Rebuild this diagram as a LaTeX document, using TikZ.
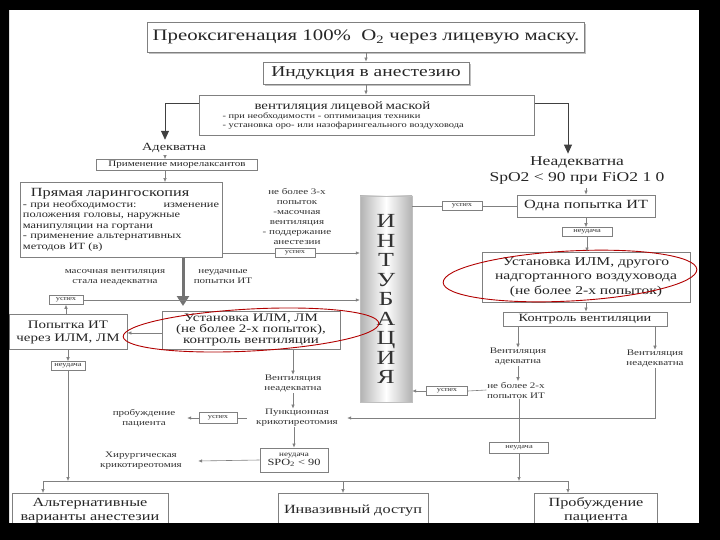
\documentclass[tikz,border=0pt]{standalone}
\usepackage{fontspec}
\setmainfont{Liberation Serif}[FakeStretch=1.3]
\usetikzlibrary{arrows.meta,shadows}

\newcommand\tinytxt{\fontsize{8.5}{10}\selectfont}
\newcommand\midtxt{\fontsize{12.5}{15}\selectfont}

\tikzset{
  bx/.style={draw=black!50, line width=0.8pt, fill=white, text=black!85, inner sep=1pt, align=center},
  glow/.style={drop shadow={fill=black!35, shadow xshift=1.5pt, shadow yshift=-2.5pt, opacity=0.7}},
  tag/.style={draw=black!50, line width=0.6pt, fill=white, text=black!80, inner sep=1pt, minimum height=9, font=\fontsize{6.5}{7}\selectfont},
  note/.style={text=black!80, align=center, inner sep=0.5pt, font=\tinytxt},
  ln/.style={draw=black!50, line width=0.6pt},
  arr/.style={ln, -{Latex[length=4pt,width=3.5pt]}},
  bigarr/.style={draw=black!75, line width=0.8pt, -{Triangle[length=9pt,width=8pt]}},
  oval/.style={draw=red!70!black, line width=0.9pt},
}

\begin{document}
\begin{tikzpicture}[x=1pt,y=1pt,yscale=-1]
%frame
\fill[black] (0,0) rectangle (720,540);
\fill[white] (9,10) rectangle (699,523);

% Text Node
\draw (366,37) node [bx, glow, minimum width=437, minimum height=30, font=\fontsize{16}{19}\selectfont] (preox) {Преоксигенация 100\%\ \ O\textsubscript{2} через лицевую маску.};
% Text Node
\draw (366,73) node [bx, glow, minimum width=206, minimum height=22, font=\fontsize{15}{17}\selectfont] (induct) {Индукция в анестезию};
% Text Node
\draw (367,115) node [bx, minimum width=335, minimum height=40, text width=325, align=left, font=\fontsize{8}{9}\selectfont] (vent) {\hspace*{50pt}{\fontsize{11.5}{13}\selectfont вентиляция лицевой маской}\\\hspace*{18pt}- при необходимости - оптимизация техники\\\hspace*{18pt}- установка оро- или назофарингеального воздуховода};

% Text Node
\draw (174,148) node [text=black!85, font=\fontsize{11}{13}\selectfont] (adek) {Адекватна};
% Text Node
\draw (577,171) node [text=black!85, align=center, font=\fontsize{13.5}{16}\selectfont] (neadek) {Неадекватна\\SpO2 < 90 при FiO2 1 0};

% Text Node
\draw (177,165) node [bx, minimum width=161, minimum height=11, inner sep=0pt, font=\fontsize{8.5}{9}\selectfont] (mio) {Применение миорелаксантов};
% Text Node
\draw (121,220) node [bx, minimum width=202, minimum height=75, text width=196, align=left, font=\fontsize{9.5}{10.5}\selectfont] (laryng) {{\fontsize{12.5}{14}\selectfont\hspace*{8pt}Прямая ларингоскопия}\\- при необходимости:\hfill изменение\\положения головы, наружные\\манипуляции на гортани\\- применение альтернативных\\методов ИТ (в)};

% Text Node
\draw (297,216) node [note] (nb3) {не более 3-х\\попыток\\-масочная\\вентиляция\\- поддержание\\анестезии};
\draw (295,253) node [tag, minimum width=40] (u1) {успех};

% Shape: column
\draw (386,299) node [draw=black!25, left color=black!30, right color=black!30, middle color=white, minimum width=52, minimum height=206, align=center, text=black!80, font=\fontsize{20}{19.5}\selectfont] (intub) {И\\Н\\Т\\У\\Б\\А\\Ц\\И\\Я};

% Text Node
\draw (462,206) node [tag, minimum width=40] (u2) {успех};
\draw (586,206) node [bx, minimum width=138, minimum height=22, font=\midtxt] (odna) {Одна попытка ИТ};
\draw (587,232) node [tag, minimum width=50] (nd1) {неудача};
\draw (586,277) node [bx, minimum width=208, minimum height=50, font=\fontsize{12}{14.5}\selectfont] (ilm2) {Установка ИЛМ, другого\\надгортанного воздуховода\\(не более 2-х попыток)};
\draw (585,319) node [bx, minimum width=164, minimum height=14, inner sep=0pt, font=\fontsize{11}{12}\selectfont] (kontr) {Контроль вентиляции};
\draw (518,357) node [note] (va) {Вентиляция\\адекватна};
\draw (655,359) node [note] (vn) {Вентиляция\\неадекватна};
\draw (516,390) node [note] (nb2) {не более 2-х\\попыток ИТ};
\draw (447,391) node [tag, minimum width=41] (u3) {успех};
\draw (519,448) node [tag, minimum width=59, minimum height=11] (nd3) {неудача};

% Text Node
\draw (115,277) node [note] (maska) {масочная вентиляция\\стала неадекватна};
\draw (223,277) node [note] (neud) {неудачные\\попытки ИТ};
\draw (66,300) node [tag, minimum width=34] (u4) {успех};
\draw (68,332) node [bx, minimum width=118, minimum height=35, font=\fontsize{11.5}{13}\selectfont] (popyt) {Попытка ИТ\\через ИЛМ, ЛМ};
\draw (251,330) node [bx, minimum width=178, minimum height=38, font=\fontsize{11.5}{11}\selectfont] (ilm1) {Установка ИЛМ, ЛМ\\(не более 2-х попыток),\\контроль вентиляции};
\draw (68,366) node [tag, minimum width=34] (nd2) {неудача};
\draw (293,384) node [note] (vn1) {Вентиляция\\неадекватна};
\draw (297,418) node [note, minimum width=100] (punk) {Пункционная\\крикотиреотомия};
\draw (218,418) node [tag, minimum width=38, minimum height=11] (u5) {успех};
\draw (144,418) node [note, minimum width=86] (probud) {пробуждение\\пациента};
\draw (294,460) node [bx, minimum width=68, minimum height=24, font=\fontsize{7}{9}\selectfont] (nd4) {неудача\\{\fontsize{9.5}{11}\selectfont SPO\textsubscript{2} < 90}};
\draw (141,461) node [note, minimum width=114] (hir) {Хирургическая\\крикотиреотомия};

% Text Node
\draw (90,493) node [bx, anchor=north, minimum width=156, minimum height=34, font=\fontsize{12.5}{14}\selectfont] (alt) {Альтернативные\\варианты анестезии};
\draw (353,493) node [bx, anchor=north, minimum width=150, minimum height=34, font=\fontsize{12.5}{14}\selectfont] (inv) {Инвазивный доступ};
\draw (596,493) node [bx, anchor=north, minimum width=123, minimum height=34, font=\fontsize{12.5}{14}\selectfont] (prob) {Пробуждение\\пациента};

% red marks
\draw[oval, rotate around={-3:(570,276)}] (570,276) ellipse [x radius=127, y radius=25];
\draw[oval, rotate around={-3:(251,330)}] (251,330) ellipse [x radius=128, y radius=21];

%Straight Lines
\draw[arr] (preox.south) -- (preox.south |- induct.north);
\draw[arr] (induct.south) -- (induct.south |- vent.north);
\coordinate (vl) at (165,103);
\coordinate (vr) at (568,103);
\draw[bigarr] (vent.west |- vl) -- (vl) -- (vl |- adek.north);
\draw[bigarr] (vent.east |- vr) -- (vr) -- (vr |- neadek.north);
\draw[arr] (adek.south -| vl) -- (mio.north -| vl);
\draw[arr] (mio.south -| vl) -- (laryng.north -| vl);
\draw[ln] (laryng.east |- u1) -- (u1.west);
\draw[arr] (u1.east) -- (intub.west |- u1);
\draw[ln] (intub.east |- u2) -- (u2.west);
\draw[ln] (u2.east) -- (odna.west);
\draw[arr] (neadek.south -| odna) -- (odna.north);
\draw[arr] (odna.south) -- (odna.south |- nd1.north);
\draw[arr] (nd1.south) -- (nd1.south |- ilm2.north);
\draw[arr] (ilm2.south) -- (ilm2.south |- kontr.north);
\draw[arr] (kontr.south -| va) -- (va.north);
\draw[arr] (kontr.south -| vn) -- (vn.north);
\draw[arr] (va.south) -- (va.south |- nb2.north);
\draw[ln] (nb2.west) -- (u3.east);
\draw[arr] (u3.west) -- (intub.east |- u3);
\draw[ln] (nb2.south -| nd3) -- (nd3.north);
\coordinate (vk) at (655,418);
\draw[arr] (vn.south) -- (vk) -- (punk.east);

% left branch
\draw[draw=black!55, line width=3pt, -{Triangle[length=10pt,width=12pt]}] (laryng.south -| 183,0) -- (183,306);
\draw[arr] (u4.east) -- (intub.west |- u4);
\draw[arr] (popyt.north -| u4) -- (u4.south);
\draw[arr] (ilm1.west |- 0,333) -- (popyt.east |- 0,333);
\draw[arr] (popyt.south -| nd2) -- (nd2.north);
\draw[arr] (ilm1.south -| vn1) -- (vn1.north);
\draw[arr] (vn1.south) -- (vn1.south |- punk.north);
\draw[ln] (punk.west) -- (u5.east);
\draw[arr] (u5.west) -- (probud.east);
\draw[arr] (punk.south -| nd4) -- (nd4.north);
\draw[arr] (nd4.west) -- (hir.east);

% bottom
\coordinate (jl) at (43,481);
\coordinate (jr) at (568,481);
\draw[ln] (jl) -- (jr);
\draw[arr] (nd2.south) -- (nd2.south |- jl);
\draw[arr] (nd3.south) -- (nd3.south |- jr);
\draw[arr] (jl) -- (alt.north -| jl);
\draw[arr] (inv.north |- jl) ++(-10,0) -- ++(0,12);
\draw[arr] (jr) -- (prob.north -| jr);

\fill[black, even odd rule] (0,0) rectangle (720,540) (9,10) rectangle (699,523);
\end{tikzpicture}
\end{document}
